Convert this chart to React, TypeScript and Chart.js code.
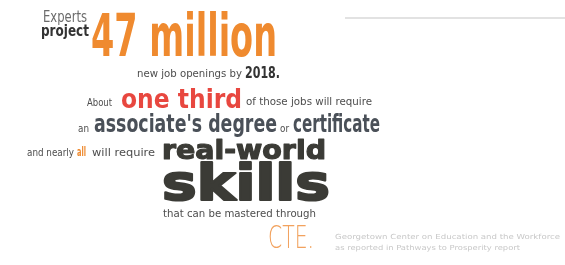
import React, { useEffect, useRef } from "react";
import { Chart, registerables } from "chart.js";

Chart.register(...registerables);

// ---- content (text of the infographic) ----
const introWords = ["Experts", "project"];
const headlineFigure = ["47 million"];
const openingsLine = ["new job openings by", "2018."];
const shareLine = ["About", "one third", "of those jobs will require"];
const degreeLine = ["an", "associate's degree", "or", "certificate"];
const skillsLine = ["and nearly", "all", "will require", "real-world"];
const skillsWord = ["skills"];
const closingLine = ["that can be mastered through", "CTE."];
const sourceLines = [
  "Georgetown Center on Education and the Workforce",
  "as reported in Pathways to Prosperity report",
];

// ---- colours ----
const ORANGE = "#ef8a2f";
const RED = "#e8473f";
const DARK = "#3b3b36";
const SLATE = "#4a5058";
const SMALL = "#4d4d4d";
const LIGHT = "#c8c8c8";

type Item = {
  text: string;
  font: string;
  color: string;
  x0: number; // left in chart units
  x1: number; // right in chart units
  base: number; // baseline in chart units
  stroke?: number;
};

const COND = "'DejaVu Sans Condensed', 'Liberation Sans Narrow', sans-serif";
const SANS = "'DejaVu Sans', 'Liberation Sans', sans-serif";

const items: Item[] = [
  { text: introWords[0], font: `16px ${COND}`, color: "#6b6b6b", x0: 43, x1: 87, base: 22 },
  { text: introWords[1], font: `bold 16px ${COND}`, color: "#333", x0: 41, x1: 89, base: 36 },
  { text: headlineFigure[0], font: `bold 59px ${COND}`, color: ORANGE, x0: 91, x1: 277, base: 56 },
  { text: openingsLine[0], font: `11px ${COND}`, color: SMALL, x0: 137, x1: 242, base: 77 },
  { text: openingsLine[1], font: `bold 15px ${COND}`, color: "#333", x0: 245, x1: 280, base: 78 },
  { text: shareLine[0], font: `11px ${COND}`, color: SMALL, x0: 87, x1: 112, base: 106 },
  { text: shareLine[1], font: `bold 27px ${COND}`, color: RED, x0: 121, x1: 242, base: 108 },
  { text: shareLine[2], font: `11px ${COND}`, color: SMALL, x0: 246, x1: 372, base: 105 },
  { text: degreeLine[0], font: `10px ${COND}`, color: SMALL, x0: 78, x1: 89, base: 132 },
  { text: degreeLine[1], font: `bold 25px ${COND}`, color: SLATE, x0: 94, x1: 277, base: 132 },
  { text: degreeLine[2], font: `10px ${COND}`, color: SMALL, x0: 280, x1: 289, base: 132 },
  { text: degreeLine[3], font: `bold 25px ${COND}`, color: SLATE, x0: 293, x1: 380, base: 132 },
  { text: skillsLine[0], font: `11px ${COND}`, color: SMALL, x0: 27, x1: 74, base: 156 },
  { text: skillsLine[1], font: `bold 12px ${COND}`, color: ORANGE, x0: 77, x1: 86, base: 156 },
  { text: skillsLine[2], font: `11px ${COND}`, color: SMALL, x0: 92, x1: 155, base: 156 },
  { text: skillsLine[3], font: `bold 27px ${SANS}`, color: DARK, x0: 162, x1: 326, base: 159, stroke: 1.2 },
  { text: skillsWord[0], font: `bold 49px ${SANS}`, color: DARK, x0: 162, x1: 330, base: 200, stroke: 2.2 },
  { text: closingLine[0], font: `11px ${COND}`, color: SMALL, x0: 163, x1: 316, base: 217 },
  { text: closingLine[1], font: `200 32px ${SANS}`, color: "#f2a25e", x0: 268, x1: 314, base: 248 },
  { text: sourceLines[0], font: `7px ${SANS}`, color: LIGHT, x0: 335, x1: 560, base: 239 },
  { text: sourceLines[1], font: `7px ${SANS}`, color: LIGHT, x0: 335, x1: 520, base: 250 },
];

const textPlugin = {
  id: "infographicText",
  afterDraw(chart: any) {
    const { ctx, scales } = chart;
    const sx = scales.x;
    const sy = scales.y;
    ctx.save();
    // thin rule at top right
    ctx.strokeStyle = "#e2e2e2";
    ctx.lineWidth = 2;
    ctx.beginPath();
    ctx.moveTo(sx.getPixelForValue(345), sy.getPixelForValue(18));
    ctx.lineTo(sx.getPixelForValue(565), sy.getPixelForValue(18));
    ctx.stroke();
    ctx.textBaseline = "alphabetic";
    ctx.textAlign = "left";
    for (const it of items) {
      ctx.font = it.font;
      const w = ctx.measureText(it.text).width;
      const left = sx.getPixelForValue(it.x0);
      const right = sx.getPixelForValue(it.x1);
      const base = sy.getPixelForValue(it.base);
      const k = (right - left) / w;
      ctx.save();
      ctx.translate(left, base);
      ctx.scale(k, 1);
      ctx.fillStyle = it.color;
      ctx.fillText(it.text, 0, 0);
      if (it.stroke) {
        ctx.strokeStyle = it.color;
        ctx.lineJoin = "round";
        ctx.lineWidth = it.stroke;
        ctx.strokeText(it.text, 0, 0);
      }
      ctx.restore();
    }
    ctx.restore();
  },
};

export default function App() {
  const ref = useRef<HTMLCanvasElement | null>(null);
  useEffect(() => {
    if (!ref.current) return;
    const chart = new Chart(ref.current, {
      type: "scatter",
      data: { datasets: [{ data: [], pointRadius: 0 }] },
      options: {
        animation: false,
        responsive: false,
        devicePixelRatio: 1,
        layout: { padding: 0 },
        plugins: { legend: { display: false }, tooltip: { enabled: false } },
        scales: {
          x: { type: "linear", min: 0, max: 565, display: false },
          y: { type: "linear", min: 0, max: 265, reverse: true, display: false },
        },
      },
      plugins: [textPlugin],
    });
    return () => chart.destroy();
  }, []);
  return (
    <div style={{ position: "fixed", left: 0, top: 0, width: 565, height: 265, background: "#fff" }}>
      <canvas ref={ref} width={565} height={265} style={{ display: "block" }} />
    </div>
  );
}
